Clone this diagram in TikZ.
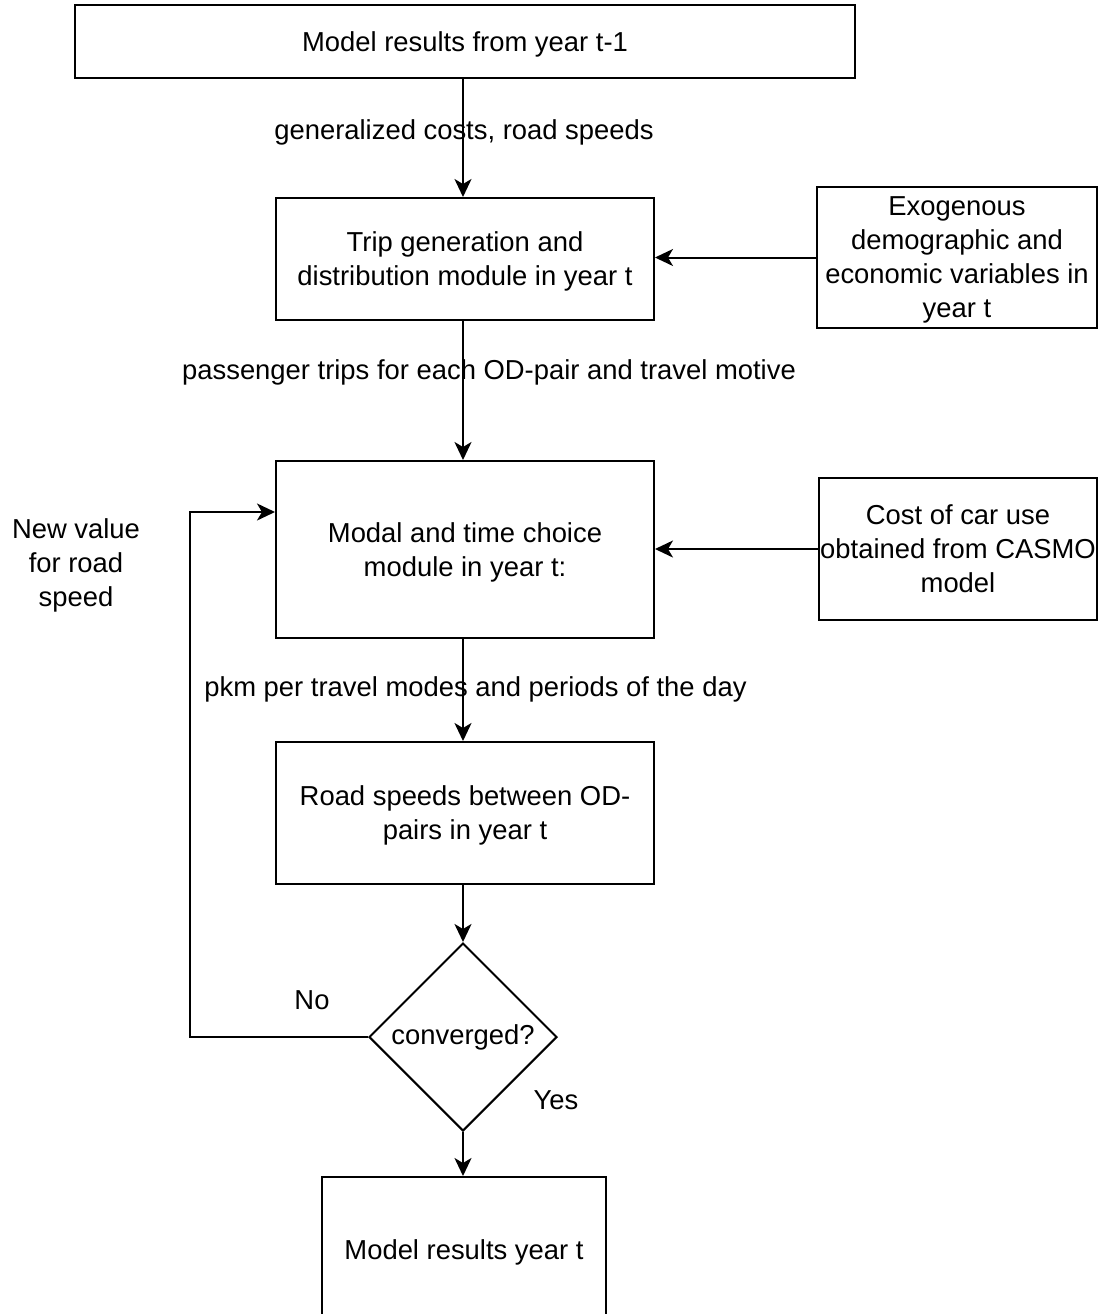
\documentclass[tikz,border=0pt]{standalone}
\usepackage{fontspec}
\setmainfont{Liberation Sans}
\usetikzlibrary{arrows.meta,shapes.geometric}

\begin{document}
\begin{tikzpicture}[x=0.5pt, y=-0.5pt, line width=1pt,
		font=\fontsize{13.7}{17}\selectfont,
		block/.style={draw, rectangle, align=center, inner sep=0pt, text depth=0pt},
		flow/.style={-{Stealth[length=9pt, width=8.5pt, inset=2.5pt]}}]
		\useasboundingbox (0,0) rectangle (1099,1314);

		% boxes of the main column
		\node[block, minimum width=390pt, minimum height=36.5pt] (prev) at (465,41.5) {Model results from year t-1};
		\node[block, minimum width=189pt, minimum height=61pt] (trip) at (465,259) {Trip generation and\\distribution module in year t};
		\node[block, minimum width=189pt, minimum height=88.5pt] (modal) at (465,549.5) {Modal and time choice\\module in year t:};
		\node[block, minimum width=189pt, minimum height=71pt] (road) at (465,813) {Road speeds between OD-\\pairs in year t};
		\node[draw, diamond, aspect=1, inner sep=0pt, minimum size=94pt] (conv) at (463,1037) {converged?};
		\node[block, minimum width=142pt, minimum height=73pt] (res) at (464,1250) {Model results year t};

		% inputs on the right
		\node[block, minimum width=140pt, minimum height=70.5pt] (exo) at (957,257.5) {Exogenous\\demographic and\\economic variables in\\year t};
		\node[block, minimum width=139pt, minimum height=71pt] (cost) at (958,549) {Cost of car use\\obtained from CASMO\\model};

		\coordinate (back) at (190,512);

		\draw[flow] (prev.south -| 463,0) -- (trip.north -| 463,0);
		\draw[flow] (trip.south -| 463,0) -- (modal.north -| 463,0);
		\draw[flow] (modal.south -| 463,0) -- (road.north -| 463,0);
		\draw[flow] (road.south -| 463,0) -- (conv.north);
		\draw[flow] (conv.south) -- (res.north -| conv.south);
		\draw[flow] (exo.west) -- (exo.west -| trip.east);
		\draw[flow] (cost.west) -- (cost.west -| modal.east);
		\draw[flow] (conv.west) -- (conv.west -| back) -- (back) -- (back -| modal.west);

		% labels
		\node (lcost) at (464,132) {generalized costs, road speeds};
		\node (ltrip) at (489,372) {passenger trips for each OD-pair and travel motive};
		\node (lpkm) at (475.5,689) {pkm per travel modes and periods of the day};
		\node (lno) at (312,1000) {No};
		\node (lyes) at (556,1100) {Yes};
		\node[align=center] (lnew) at (76,565) {New value\\for road\\speed};

	\end{tikzpicture}
\end{document}
